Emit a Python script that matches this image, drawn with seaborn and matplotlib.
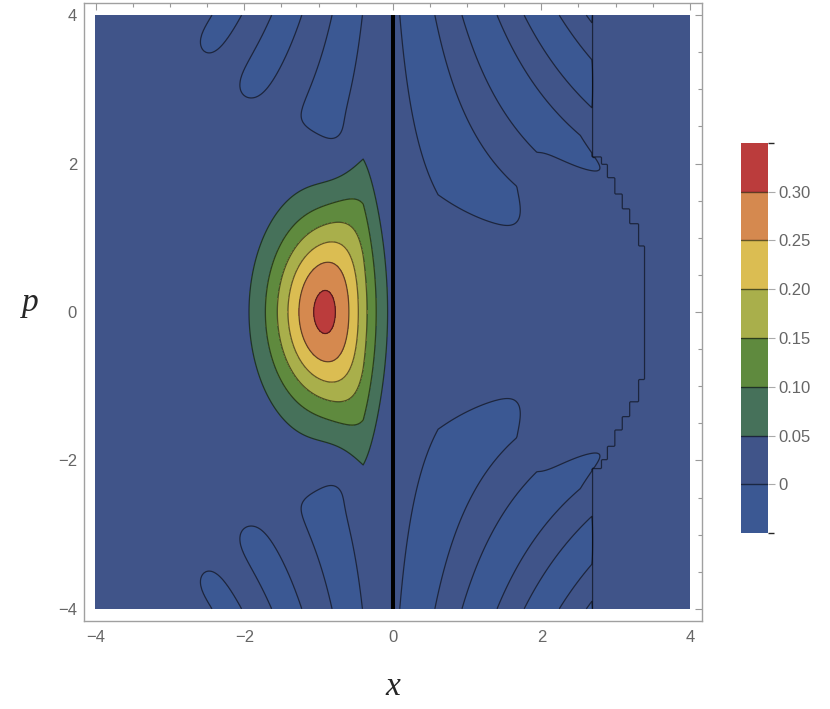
import math
import numpy as np
import matplotlib
matplotlib.use("Agg")
import matplotlib.pyplot as plt
from matplotlib.colors import ListedColormap, BoundaryNorm
from matplotlib.cm import ScalarMappable
import seaborn as sns

# contour levels and band colours (from the legend)
levels = [0, 0.05, 0.10, 0.15, 0.20, 0.25, 0.30]
level_labels = ["0", "0.05", "0.10", "0.15", "0.20", "0.25", "0.30"]
band_colors = ["#3b5893", "#405489", "#46715a", "#5f8a3e",
               "#a9af4b", "#dbbd52", "#d5894f", "#bb3c3c"]
major_ticks = [-4, -2, 0, 2, 4]
tick_labels = ["\u22124", "\u22122", "0", "2", "4"]

# gaussian packet cut off by a hard wall
x_center = -0.87
width_lobe = 0.78
width_edge = 0.9
wall_lobe = 0.25     # cut used for the main lobe
wall_edge = 0.0      # cut used for the high-|p| fringes
blend_p = 2.55
blend_soft = 0.12
damp_start = -0.4    # momentum damping close to the wall
damp_rate = 0.38

# tiny numerical ripple left on the x > 0 side
ripple_amp = 1e-3
ripple_freq = 1.875
ripple_shift = 0.244
ripple_phase = -2.73
ripple_close = (1.5, 0.8, 1.85)
ripple_radius = 3.4
ripple_edge = 2.65
ripple_step = 0.1

sns.set_theme(style="white")
plt.rcParams["font.family"] = ["Liberation Sans", "DejaVu Sans"]

xs = np.linspace(-4, 4, 401)
ps = np.linspace(-4, 4, 401)
X, P = np.meshgrid(xs, ps)

t, gw = np.polynomial.legendre.leggauss(96)
xl = xs[xs <= 0]


def packet_wigner(wall, width):
    # Wigner function of a gaussian packet truncated at x = wall
    s2 = width ** 2
    w = wall - xl
    norm = 2 / (width * math.sqrt(math.pi) * (1 + math.erf((wall - x_center) / width)))
    Y = w[None, :, None] * t[None, None, :]
    integral = (np.exp(-Y ** 2 / s2) * np.cos(2 * ps[:, None, None] * Y) * gw).sum(axis=2) * w[None, :]
    return norm / np.pi * np.exp(-(xl - x_center) ** 2 / s2)[None, :] * integral


W_lobe = packet_wigner(wall_lobe, width_lobe)
W_edge = packet_wigner(wall_edge, width_edge)
XL, PL = np.meshgrid(xl, ps)
m = 1 / (1 + np.exp((np.abs(PL) - blend_p) / blend_soft))
h = np.clip((XL - damp_start) / -damp_start, 0, 1)
damp = np.exp(-damp_rate * PL ** 2 * h)
W_left = (m * W_lobe + (1 - m) * W_edge) * damp

# right side: near-zero ripple
xr = xs[xs > 0]
XR, PR = np.meshgrid(xr, ps)
Q = np.abs(PR)
theta = ripple_freq * Q * (XR + ripple_shift) + ripple_phase
q_close = ripple_close[0] + ripple_close[1] / (1 + np.exp(-(XR - ripple_close[2]) / 0.1))
b = np.clip(2.5 * (q_close - Q), -0.2, 2)
W_right = ripple_amp * (b - np.sin(theta))
xq = np.floor(XR / ripple_step) * ripple_step
qq = np.floor(Q / ripple_step) * ripple_step
inside = (np.hypot(xq, qq) < ripple_radius) | (xq < ripple_edge)
W_right = np.where(inside, W_right, ripple_amp)

Z = np.hstack([W_left, W_right])

fig = plt.figure(figsize=(8.3, 7.09), dpi=100)
ax = fig.add_axes([84 / 830, 1 - 620.7 / 709, 617.7 / 830, 617.4 / 709])
ax.set_facecolor("white")

palette = sns.color_palette(band_colors)
line_col = (0, 0, 0, 0.55)
ax.contourf(X, P, Z, levels=[-1] + levels + [1], colors=palette)
ax.contour(X, P, Z, levels=levels, colors=[line_col], linewidths=0.9)
ax.contour(XR, PR, inside.astype(float), levels=[0.5], colors=[line_col], linewidths=0.9)
ax.plot([0, 0], [-4, 4], color="black", lw=2.9, solid_capstyle="butt")

ax.set_xlim(-4.16, 4.16)
ax.set_ylim(-4.16, 4.16)
ax.set_xticks(major_ticks)
ax.set_xticklabels(tick_labels)
ax.set_yticks(major_ticks)
ax.set_yticklabels(tick_labels)
ax.set_xticks(np.arange(-4, 4.01, 0.5), minor=True)
ax.set_yticks(np.arange(-4, 4.01, 0.5), minor=True)
ax.tick_params(which="both", direction="in", top=True, right=True,
               color="#999999", width=0.8, labelsize=12, labelcolor="#666666")
ax.tick_params(which="major", length=5)
ax.tick_params(which="minor", length=3)
ax.tick_params(axis="x", pad=7)
ax.tick_params(axis="y", pad=5)
for sp in ax.spines.values():
    sp.set_color("#a0a0a0")
    sp.set_linewidth(1.0)

fig.text(393 / 830, 1 - 687 / 709, "x", ha="center", va="center",
         fontsize=24, style="italic", family="Liberation Serif")
fig.text(30 / 830, 1 - 303 / 709, "p", ha="center", va="center",
         fontsize=24, style="italic", family="Liberation Serif")

# legend bar
bounds = [-0.05] + levels + [0.35]
cmap = ListedColormap(palette)
cnorm = BoundaryNorm(bounds, cmap.N)
cax = fig.add_axes([740.7 / 830, 1 - 533.3 / 709, 27.6 / 830, 390.6 / 709])
cb = fig.colorbar(ScalarMappable(norm=cnorm, cmap=cmap), cax=cax, ticks=levels)
cb.set_ticklabels(level_labels)
cb.outline.set_visible(False)
for lv in levels:
    cax.axhline(lv, color=line_col, lw=1.0)
cax.tick_params(length=5, width=0.8, color="#aaaaaa", labelsize=12,
                labelcolor="#666666", pad=2, direction="out")

fig.savefig("out.png", dpi=100)
